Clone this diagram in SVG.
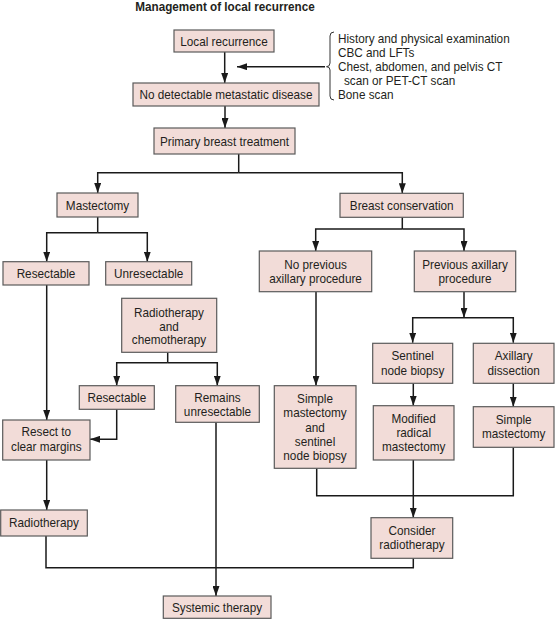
<svg xmlns="http://www.w3.org/2000/svg" width="555" height="619" viewBox="0 0 555 619">
<defs>
<marker id="ah" markerUnits="userSpaceOnUse" markerWidth="10" markerHeight="7" refX="10" refY="3.5" orient="auto">
<path d="M0,0 L10,3.5 L0,7 z" fill="#1a1a1a"/>
</marker>
<style>
.b{fill:#f2dcd8;stroke:#5a5a5a;stroke-width:1.2}
.t{font-family:"Liberation Sans",Arial,sans-serif;font-size:13px;fill:#231f20;text-anchor:middle}
.s{font-family:"Liberation Sans",Arial,sans-serif;font-size:13px;fill:#231f20}
.c{fill:none;stroke:#1a1a1a;stroke-width:1.5}
.a{marker-end:url(#ah)}
</style>
</defs>
<rect width="555" height="619" fill="#ffffff"/>
<text transform="translate(225,11) scale(.9,1)" class="t" style="font-weight:bold">Management of local recurrence</text>

<g id="connectors">
<path class="c a" d="M224.7 52 V83"/>
<path class="c a" d="M325 66.7 H237"/>
<path class="c a" d="M225 106 V128"/>
<path class="c" d="M238.7 154 V172.7"/>
<path class="c a" d="M238.7 172.7 H97.7 V193"/>
<path class="c a" d="M238.7 172.7 H402.3 V193.3"/>
<path class="c" d="M97.7 217 V232.7"/>
<path class="c a" d="M97.7 232.7 H46.7 V261.7"/>
<path class="c a" d="M97.7 232.7 H147.3 V261.7"/>
<path class="c" d="M402.3 217.3 V229"/>
<path class="c a" d="M402.3 229 H315.7 V251"/>
<path class="c a" d="M402.3 229 H464 V251"/>
<path class="c a" d="M464 291.7 V317.7"/>
<path class="c a" d="M463 317.7 H412.7 V342.7"/>
<path class="c a" d="M463 317.7 H513.3 V342.7"/>
<path class="c a" d="M316 291.7 V385.7"/>
<path class="c a" d="M413.3 383.3 V405.7"/>
<path class="c a" d="M513.3 383.3 V406.7"/>
<path class="c" d="M316.7 468.3 V495.7 H513.3 V447.3"/>
<path class="c a" d="M413.3 460 V517.7"/>
<path class="c" d="M413.3 558.3 V567.7 H46 V536"/>
<path class="c a" d="M46.7 285 V420"/>
<path class="c" d="M167.7 352.3 V362.7"/>
<path class="c a" d="M167.7 362.7 H116.7 V385.7"/>
<path class="c a" d="M167.7 362.7 H217.3 V385.7"/>
<path class="c a" d="M116.7 409.3 V439.3 H90"/>
<path class="c a" d="M46.7 460 V510"/>
<path class="c a" d="M216 422.3 V596"/>
</g>

<g id="brace">
<path d="M334 32 Q330 32 330 36 V63 Q330 66.7 326.5 66.7 Q330 66.7 330 70 V96 Q330 100 334 100" fill="none" stroke="#333" stroke-width="1"/>
<text class="s" transform="translate(338,42.5) scale(.905,1)">History and physical examination</text>
<text class="s" transform="translate(338,56.5) scale(.905,1)">CBC and LFTs</text>
<text class="s" transform="translate(338,70.5) scale(.905,1)">Chest, abdomen, and pelvis CT</text>
<text class="s" transform="translate(344,84.5) scale(.905,1)">scan or PET-CT scan</text>
<text class="s" transform="translate(338,98.5) scale(.905,1)">Bone scan</text>
</g>

<g id="local-recurrence"><rect class="b" x="174" y="30" width="100" height="22"/><text class="t" transform="translate(224,45.5) scale(.905,1)">Local recurrence</text></g>
<g id="no-metastatic"><rect class="b" x="133" y="83" width="186" height="23"/><text class="t" transform="translate(226,99) scale(.905,1)">No detectable metastatic disease</text></g>
<g id="primary-treatment"><rect class="b" x="154" y="128" width="141" height="26"/><text class="t" transform="translate(224.5,145.5) scale(.905,1)">Primary breast treatment</text></g>
<g id="mastectomy"><rect class="b" x="57" y="193" width="81" height="24"/><text class="t" transform="translate(97.5,209.5) scale(.905,1)">Mastectomy</text></g>
<g id="breast-conservation"><rect class="b" x="340" y="193.3" width="123.3" height="24"/><text class="t" transform="translate(401.7,209.5) scale(.905,1)">Breast conservation</text></g>
<g id="resectable1"><rect class="b" x="3" y="261.7" width="86" height="23.3"/><text class="t" transform="translate(46,278) scale(.905,1)">Resectable</text></g>
<g id="unresectable"><rect class="b" x="105.7" y="261.7" width="86" height="23.3"/><text class="t" transform="translate(148.7,278) scale(.905,1)">Unresectable</text></g>
<g id="radio-chemo"><rect class="b" x="121.7" y="298.3" width="95" height="54"/><text class="t" transform="translate(169,317) scale(.905,1)">Radiotherapy</text><text class="t" transform="translate(169,330.5) scale(.905,1)">and</text><text class="t" transform="translate(169,344) scale(.905,1)">chemotherapy</text></g>
<g id="no-previous"><rect class="b" x="259.3" y="251" width="112.4" height="40.7"/><text class="t" transform="translate(315.5,268.5) scale(.905,1)">No previous</text><text class="t" transform="translate(315.5,282.5) scale(.905,1)">axillary procedure</text></g>
<g id="previous-axillary"><rect class="b" x="414.3" y="251" width="101.4" height="40.7"/><text class="t" transform="translate(465,268.5) scale(.905,1)">Previous axillary</text><text class="t" transform="translate(465,282.5) scale(.905,1)">procedure</text></g>
<g id="sentinel"><rect class="b" x="372.7" y="343.3" width="80" height="40"/><text class="t" transform="translate(412.7,360) scale(.905,1)">Sentinel</text><text class="t" transform="translate(412.7,374.5) scale(.905,1)">node biopsy</text></g>
<g id="axillary-dissection"><rect class="b" x="473.3" y="343.3" width="80.7" height="40"/><text class="t" transform="translate(513.7,360) scale(.905,1)">Axillary</text><text class="t" transform="translate(513.7,374.5) scale(.905,1)">dissection</text></g>
<g id="simple-mast-snb"><rect class="b" x="274.3" y="385.7" width="81.7" height="82.6"/><text class="t" transform="translate(315,403) scale(.905,1)">Simple</text><text class="t" transform="translate(315,417) scale(.905,1)">mastectomy</text><text class="t" transform="translate(315,431.5) scale(.905,1)">and</text><text class="t" transform="translate(315,445.5) scale(.905,1)">sentinel</text><text class="t" transform="translate(315,459.5) scale(.905,1)">node biopsy</text></g>
<g id="modified-radical"><rect class="b" x="373.3" y="405.7" width="80.7" height="54.3"/><text class="t" transform="translate(413.7,423) scale(.905,1)">Modified</text><text class="t" transform="translate(413.7,437) scale(.905,1)">radical</text><text class="t" transform="translate(413.7,451) scale(.905,1)">mastectomy</text></g>
<g id="simple-mast"><rect class="b" x="473.3" y="406.7" width="80.7" height="40.6"/><text class="t" transform="translate(513.7,424) scale(.905,1)">Simple</text><text class="t" transform="translate(513.7,438) scale(.905,1)">mastectomy</text></g>
<g id="consider-radio"><rect class="b" x="371" y="517.7" width="81.7" height="40.6"/><text class="t" transform="translate(412,535) scale(.905,1)">Consider</text><text class="t" transform="translate(412,549) scale(.905,1)">radiotherapy</text></g>
<g id="resectable2"><rect class="b" x="79.3" y="385.7" width="75" height="23.6"/><text class="t" transform="translate(116.8,402) scale(.905,1)">Resectable</text></g>
<g id="remains-unresectable"><rect class="b" x="175.7" y="385.7" width="83.6" height="36.6"/><text class="t" transform="translate(217.5,402) scale(.905,1)">Remains</text><text class="t" transform="translate(217.5,415.5) scale(.905,1)">unresectable</text></g>
<g id="resect-margins"><rect class="b" x="2.7" y="420" width="87.3" height="40"/><text class="t" transform="translate(46.3,436) scale(.905,1)">Resect to</text><text class="t" transform="translate(46.3,451) scale(.905,1)">clear margins</text></g>
<g id="radiotherapy"><rect class="b" x="0.7" y="510" width="86.6" height="26"/><text class="t" transform="translate(44,527) scale(.905,1)">Radiotherapy</text></g>
<g id="systemic"><rect class="b" x="163.3" y="596" width="107.7" height="22.3"/><text class="t" transform="translate(217,611.5) scale(.905,1)">Systemic therapy</text></g>
</svg>
